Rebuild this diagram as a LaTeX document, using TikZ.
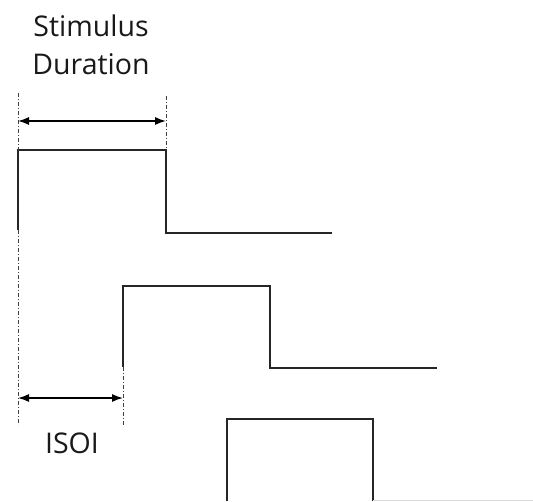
\documentclass[tikz,border=0pt]{standalone}
\usepackage{fontspec}
\setmainfont{Open Sans}
\usetikzlibrary{arrows.meta}
\begin{document}
\begin{tikzpicture}[x=1pt,y=-1pt,
  pulse/.style={draw=black!85,line width=1.3pt},
  guide/.style={draw=black!75,line width=1pt,dash pattern=on 4pt off 2pt on 1pt off 2pt},
  dim/.style={draw=black,line width=1.3pt,{Latex[length=11pt,width=8pt]}-{Latex[length=11pt,width=8pt]}},
  lbl/.style={font=\fontsize{28.5}{34}\selectfont,text=black!90,inner sep=0pt}]
\useasboundingbox (0,0) rectangle (533,501);
% labels
\node[lbl] (stim) at (91,26) {Stimulus};
\node[lbl] (dur) at (91,64) {Duration};
\node[lbl] (isoi) at (72,443) {ISOI};
% pulse 1
\coordinate (p1a) at (18,230);
\coordinate (p1b) at (18,150);
\coordinate (p1c) at (166,150);
\coordinate (p1d) at (166,233);
\coordinate (p1e) at (332,233);
\draw[pulse] (p1a) -- (p1b) -- (p1c) -- (p1d) -- (p1e);
% pulse 2
\coordinate (p2a) at (123,367);
\coordinate (p2b) at (123,286);
\coordinate (p2c) at (270,286);
\coordinate (p2d) at (270,368);
\coordinate (p2e) at (437,368);
\draw[pulse] (p2a) -- (p2b) -- (p2c) -- (p2d) -- (p2e);
% pulse 3
\coordinate (p3a) at (227,501);
\coordinate (p3b) at (227,419);
\coordinate (p3c) at (373,419);
\coordinate (p3d) at (373,501);
\coordinate (p3e) at (533,500);
\draw[pulse] (p3a) -- (p3b) -- (p3c) -- (p3d);
\draw[draw=black!15,line width=1pt] (373,500) -- (p3e);
% guides
\coordinate (g1t) at (18,93);
\coordinate (g1b) at (18,425);
\coordinate (g2t) at (166,96);
\coordinate (g3b) at (123,425);
\draw[guide] (g1t) -- (p1b);
\draw[guide] (p1a) -- (g1b);
\draw[guide] (g2t) -- (p1c);
\draw[guide] (p2a) -- (g3b);
% dimension arrows
\coordinate (d1l) at (18,121);
\coordinate (d1r) at (166,121);
\coordinate (d2l) at (18,398);
\coordinate (d2r) at (123,398);
\draw[dim] (d1l) -- (d1r);
\draw[dim] (d2l) -- (d2r);
\end{tikzpicture}
\end{document}
